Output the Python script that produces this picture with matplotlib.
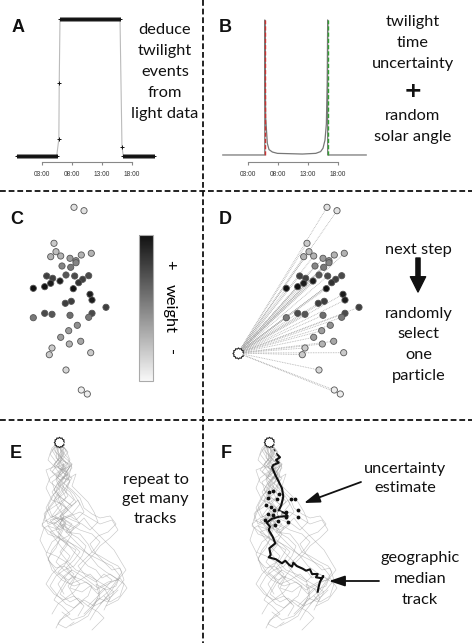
import numpy as np
import matplotlib.pyplot as plt
from matplotlib.colors import LinearSegmentedColormap
from matplotlib.path import Path

# ---- data --------------------------------------------------------------
# A: light recording (hours, light level)
log_step = 10 / 60.0
night1_start, night1_end = -1.17, 5.5
day_start, day_end = 6.05, 16.15
night2_start, night2_end = 16.6, 21.9
light_lo, light_hi = 0, 64
dawn_obs_t, dawn_obs_v = [5.86, 5.92], [8, 34]
dusk_obs_t, dusk_obs_v = [16.38], [4.3]

hour_ticks = [3, 8, 13, 18]
hour_labels = ["03:00", "08:00", "13:00", "18:00"]

# B: twilight time uncertainty curve
twl_t = [-1.2, 5.8, 5.8, 5.94, 6.22, 6.5, 7.06, 7.9, 12.06, 14.3, 15.1, 15.5, 15.83, 16.06, 16.2, 16.28, 16.28, 22.7]
twl_d = [0, 0, 1.0, 0.28, 0.086, 0.04, 0.022, 0.012, 0.007, 0.012, 0.025, 0.05, 0.11, 0.23, 0.53, 1.0, 0, 0]
dawn_t, dusk_t = 5.8, 16.28

# C/D: particles
part_x = [74, 84, 54, 56, 50.7, 60.7, 81.3, 91.3, 70, 76, 70.7, 62, 76, 46.7, 52.7, 50.7, 60, 44.7, 33.3, 66, 74.7, 82.7, 78.7, 88.7,
          73.3, 90, 92, 65.3, 71.3, 106, 33.3, 44.7, 52, 70, 92, 88.7, 77.3, 68.7, 60.7, 69.3, 80.7, 52, 49.3, 90.7, 66, 81.3, 87.3]
part_y = [17.3, 20.7, 53.3, 61.7, 66.7, 66, 65, 63.3, 68.3, 70.7, 77.3, 76, 72.7, 86, 88.3, 93.3, 91, 96.7, 98.3, 85, 86, 89.3, 92.7, 85.7,
          98.7, 104.3, 110, 113.3, 111.3, 117.3, 127.7, 123.3, 124.3, 125.3, 123.3, 127.3, 135.3, 140.7, 147.3, 154, 151.3, 158, 164.7, 162.7, 180, 200, 204]
part_w = [0.1, 0.1, 0.2, 0.25, 0.3, 0.3, 0.3, 0.3, 0.4, 0.45, 0.55, 0.5, 0.5, 0.8, 0.8, 0.95, 0.95, 1.0, 1.0, 0.7, 0.75, 0.8, 0.85, 0.75,
          1.0, 0.95, 0.95, 0.8, 0.8, 0.8, 0.55, 0.75, 0.7, 0.6, 0.75, 0.55, 0.45, 0.4, 0.4, 0.3, 0.35, 0.2, 0.2, 0.2, 0.15, 0.05, 0.05]
prev_x, prev_y = -15, 163

# E/F: simulated tracks
start_x, start_y = 59, 22
tracks_x = [
    [59, 54, 60, 66, 62, 57, 65, 70, 64, 58, 62, 55, 66, 60, 50, 56, 62, 70, 64, 58, 68, 76, 70, 82, 90, 98, 104, 110, 104],
    [59, 64, 58, 68, 62, 72, 66, 74, 80, 72, 62, 54, 60, 48, 56, 66, 74, 80, 88, 96, 102, 110, 118, 112, 104, 96, 90],
    [59, 52, 48, 56, 64, 58, 70, 66, 56, 48, 44, 54, 62, 72, 66, 80, 88, 92, 100, 110, 118, 122, 114, 108, 96, 88, 78, 70],
    [59, 66, 70, 62, 56, 60, 52, 46, 50, 58, 64, 60, 52, 46, 50, 56, 66, 60, 54, 62, 70, 60, 56],
    [59, 61, 54, 60, 66, 76, 72, 80, 88, 94, 98, 90, 82, 72, 64, 60, 66, 74, 82, 90, 98, 106, 116, 124, 120, 110, 104],
    [59, 56, 64, 58, 50, 46, 52, 62, 68, 74, 80, 70, 62, 54, 44, 40, 46, 56, 66, 72, 64, 70, 80, 90, 96, 100, 94, 84, 72, 62],
    [59, 68, 62, 56, 46, 50, 60, 54, 58, 52, 62, 68, 78, 86, 82, 74, 64, 56, 50, 58, 66, 74, 84, 94, 102, 112, 118],
    [59, 61, 68, 72, 64, 60, 66, 58, 64, 60, 70, 78, 84, 90, 98, 106, 114, 120, 126, 118, 108, 98, 90, 82, 72, 64, 58, 64],
    [59, 50, 56, 62, 68, 58, 54, 62, 72, 66, 58, 50, 56, 64, 72, 66, 60, 68, 76, 86, 96, 106, 114, 108, 98, 92, 84],
    [59, 63, 72, 66, 62, 56, 62, 68, 60, 66, 74, 68, 60, 52, 48, 56, 64, 74, 66, 60, 70, 78, 88, 98, 104, 98, 92],
    [59, 58, 66, 60, 52, 56, 64, 72, 78, 84, 76, 70, 62, 56, 64, 76, 88, 100, 112, 120, 116, 106, 96, 100, 92],
    [59, 64, 60, 54, 62, 70, 64, 58, 66, 74, 66, 58, 50, 42, 48, 58, 68, 62, 56, 64, 72, 80, 74, 66, 58, 52],
    [59, 55, 62, 58, 66, 72, 68, 60, 54, 48, 52, 60, 70, 80, 90, 100, 112, 118, 110, 100, 94, 86, 80, 74, 68, 74, 82],
    [59, 62, 56, 50, 58, 64, 70, 62, 68, 58, 46, 42, 50, 60, 56, 48, 52, 62, 74, 86, 96, 108, 120, 127, 118, 106],
    [59, 66, 60, 70, 64, 56, 62, 70, 76, 68, 60, 66, 58, 64, 72, 80, 74, 66, 72, 82, 92, 88, 80, 72, 64, 58, 66, 74],
    [59, 52, 58, 64, 56, 62, 72, 80, 84, 92, 100, 110, 116, 108, 98, 90, 96, 104, 112, 120, 124, 116, 108, 100],
    [59, 64, 58, 52, 60, 68, 62, 56, 50, 44, 48, 56, 64, 58, 66, 76, 70, 60, 52, 46, 54, 64, 74, 84, 78],
    [59, 57, 63, 70, 64, 58, 52, 58, 66, 60, 70, 80, 92, 100, 94, 86, 78, 86, 96, 104, 112, 104, 96, 88],
]
tracks_y = [
    [22, 30, 36, 42, 50, 46, 54, 62, 70, 78, 88, 96, 102, 108, 112, 120, 128, 136, 146, 152, 160, 156, 168, 172, 166, 174, 168, 178, 190],
    [22, 28, 36, 44, 52, 58, 66, 74, 84, 94, 98, 104, 110, 106, 116, 122, 132, 138, 146, 150, 158, 154, 160, 170, 180, 190, 200],
    [22, 28, 40, 48, 44, 56, 60, 72, 80, 90, 100, 104, 98, 104, 112, 114, 124, 132, 136, 142, 146, 152, 164, 172, 182, 196, 202, 206],
    [22, 30, 40, 50, 60, 68, 76, 88, 96, 102, 108, 116, 122, 134, 142, 152, 160, 170, 180, 186, 194, 200, 208],
    [22, 34, 46, 54, 60, 54, 66, 74, 82, 92, 102, 110, 104, 100, 96, 104, 112, 120, 128, 136, 146, 152, 158, 164, 176, 182, 176],
    [22, 38, 44, 52, 58, 68, 80, 84, 90, 96, 104, 112, 108, 102, 108, 120, 132, 136, 142, 150, 158, 164, 160, 154, 160, 172, 186, 196, 200, 192],
    [22, 32, 40, 46, 50, 62, 70, 80, 88, 96, 100, 112, 118, 126, 136, 146, 150, 156, 166, 176, 184, 188, 180, 186, 182, 176, 170],
    [22, 30, 38, 48, 58, 66, 78, 88, 96, 104, 110, 104, 98, 106, 114, 122, 130, 140, 150, 160, 162, 168, 162, 156, 150, 156, 164, 174],
    [22, 34, 42, 48, 54, 62, 70, 78, 86, 92, 98, 100, 108, 104, 114, 124, 132, 142, 150, 154, 160, 166, 172, 182, 178, 186, 194],
    [22, 36, 44, 52, 60, 70, 82, 90, 98, 104, 108, 116, 120, 130, 140, 148, 146, 154, 164, 174, 182, 178, 186, 192, 198, 204, 210],
    [22, 42, 48, 56, 62, 74, 80, 86, 80, 92, 100, 96, 100, 110, 120, 126, 134, 140, 146, 156, 166, 170, 164, 178, 186],
    [22, 30, 38, 44, 50, 46, 58, 64, 72, 80, 88, 94, 98, 104, 114, 118, 124, 132, 142, 150, 156, 164, 172, 178, 184, 194],
    [22, 32, 38, 48, 52, 44, 60, 66, 74, 86, 96, 100, 96, 92, 98, 104, 100, 110, 118, 126, 134, 142, 150, 158, 166, 176, 184],
    [22, 36, 42, 50, 56, 48, 56, 64, 76, 84, 92, 106, 112, 118, 128, 138, 150, 160, 166, 162, 170, 164, 158, 168, 180, 186],
    [22, 30, 40, 44, 52, 58, 66, 72, 82, 88, 96, 104, 112, 118, 124, 132, 140, 148, 156, 160, 166, 176, 182, 190, 196, 204, 208, 202],
    [22, 30, 40, 46, 56, 62, 70, 78, 88, 94, 98, 96, 104, 112, 116, 124, 134, 142, 150, 148, 160, 170, 176, 184],
    [22, 34, 44, 52, 60, 54, 70, 78, 86, 94, 104, 98, 106, 116, 124, 130, 140, 146, 154, 164, 174, 180, 176, 186, 196],
    [22, 30, 40, 46, 56, 64, 72, 82, 88, 96, 104, 110, 114, 122, 130, 138, 146, 156, 162, 154, 160, 170, 178, 186],
]

# F: geographic median track and uncertainty cloud at one step
median_x = [67.7, 70, 66, 68.7, 63.3, 62, 65.3, 68.7, 72, 73.3, 71.3, 68.7, 75.3, 77.7, 69.3, 62, 56.7, 60, 58.7, 62.7, 65.3, 59.3, 60.7,
            58.7, 66, 72, 75.3, 79.3, 82, 83.3, 86.7, 92.7, 96, 100, 102, 107.7, 106, 112, 113.3, 110, 108.7, 107.7]
median_y = [35, 37.3, 40, 42.7, 45, 47.3, 55, 61.7, 68.3, 76.7, 85, 90.7, 93.3, 96, 96.7, 98.7, 102.7, 106.7, 110, 116.7, 123.3, 128.3, 135,
            137.3, 139.3, 143.3, 140.7, 145, 146.7, 142.7, 146, 148.7, 150.7, 149.3, 154, 154, 157.3, 158.3, 156, 161.7, 166.7, 171.7]
unc_x = [59.3, 63.3, 68.7, 58.3, 66.7, 81, 85.3, 56, 60.7, 64.3, 76, 87.7, 57.7, 63.3, 76, 87.7, 55.3, 67.7, 77.7, 65.3]
unc_y = [71.7, 70.7, 74, 78.3, 79.3, 79.3, 79.3, 85, 86.7, 90, 91.7, 90, 94, 95, 96.7, 97.3, 100, 100.7, 101.7, 105]
unc_mid_x, unc_mid_y = 69.3, 92.7

# ---- figure --------------------------------------------------------------
W, H = 472, 643
fig = plt.figure(figsize=(W / 100, H / 100), dpi=100)
TXT = "Lato"


def px_axes(x0, y0, x1, y1):
    return fig.add_axes([x0 / W, 1 - y1 / H, (x1 - x0) / W, (y1 - y0) / H])


# sun-like marker for the starting location
ang = np.linspace(0, 2 * np.pi, 25)[:-1]
rad = np.where(np.arange(24) % 2 == 0, 1.0, 0.82)
sun = Path(np.column_stack([rad * np.cos(ang), rad * np.sin(ang)]), closed=False)


def time_axis(ax):
    for s in ("top", "right", "left"):
        ax.spines[s].set_visible(False)
    ax.spines["bottom"].set_bounds(3, 18)
    ax.spines["bottom"].set_color("#888888")
    ax.spines["bottom"].set_linewidth(0.8)
    ax.set_xticks(hour_ticks)
    ax.set_xticklabels(hour_labels, fontfamily="Liberation Sans")
    ax.tick_params(axis="x", length=2.5, width=0.8, color="#888888", labelsize=4.8,
                   labelcolor="#333333", pad=4)
    ax.set_yticks([])
    ax.patch.set_alpha(0)
    ax.set_xlim(-2, 24)


# A
axA = px_axes(11.7, 12, 167.7, 162)
seg1 = np.arange(night1_start, night1_end, log_step)
seg2 = np.arange(day_start, day_end, log_step)
seg3 = np.arange(night2_start, night2_end, log_step)
light_t = np.concatenate([seg1, dawn_obs_t, seg2, dusk_obs_t, seg3])
light_v = np.concatenate([np.full(len(seg1), light_lo), dawn_obs_v, np.full(len(seg2), light_hi),
                          dusk_obs_v, np.full(len(seg3), light_lo)])
axA.plot(light_t, light_v, color="#bbbbbb", lw=0.8)
axA.plot(light_t, light_v, "+", color="#111111", ms=3.2, mew=0.7)
axA.set_ylim(-2.8, 67.3)
time_axis(axA)

# B
axB = px_axes(218, 12, 374, 162)
axB.plot(twl_t, twl_d, color="#777777", lw=0.9)
axB.plot([dawn_t, dawn_t], [0, 1], color="#cc3333", lw=1.0, dashes=(3, 1.5))
axB.plot([dusk_t, dusk_t], [0, 1], color="#33a033", lw=1.0, dashes=(3, 1.5))
axB.set_ylim(-0.052, 1.059)
time_axis(axB)

# C
cmap = LinearSegmentedColormap.from_list("wt", ["#f8f8f8", "#111111"])
axC = px_axes(0, 190, 236, 420)
axC.set_xlim(0, 236)
axC.set_ylim(230, 0)
axC.axis("off")
sc = axC.scatter(part_x, part_y, c=part_w, cmap=cmap, vmin=0, vmax=1, s=20,
                 edgecolors="#555555", linewidths=0.6, zorder=3)
cax = px_axes(139, 235, 153, 381)
cb = fig.colorbar(sc, cax=cax)
cb.set_ticks([])
cb.outline.set_edgecolor("#aaaaaa")
cb.outline.set_linewidth(0.8)

# D
axD = px_axes(236, 190, 472, 420)
axD.set_xlim(-17, 219)
axD.set_ylim(230, 0)
axD.axis("off")
for x, y in zip(part_x, part_y):
    axD.plot([prev_x, x], [prev_y, y], color="#b0b0b0", lw=0.6, ls=(0, (1, 1)), zorder=1)
axD.scatter(part_x, part_y, c=part_w, cmap=cmap, vmin=0, vmax=1, s=20,
            edgecolors="#555555", linewidths=0.6, zorder=3)
axD.plot(prev_x, prev_y, marker=sun, ms=8, mfc="white", mec="#222222", mew=0.8,
         clip_on=False, zorder=4)

# E
axE = px_axes(0, 420, 236, 643)
axE.set_xlim(0, 236)
axE.set_ylim(223, 0)
axE.axis("off")
for tx, ty in zip(tracks_x, tracks_y):
    axE.plot(tx, ty, color="#9a9a9a", lw=0.45, alpha=0.55)
axE.plot(start_x, start_y, marker=sun, ms=7.5, mfc="white", mec="#222222", mew=0.8, zorder=4)

# F
axF = px_axes(236, 420, 472, 643)
axF.set_xlim(26, 262)
axF.set_ylim(223, 0)
axF.axis("off")
for tx, ty in zip(tracks_x, tracks_y):
    axF.plot(tx, ty, color="#9a9a9a", lw=0.45, alpha=0.55)
axF.plot([start_x, median_x[0]], [start_y, median_y[0]], color="#222222", lw=0.9, dashes=(2, 1.5))
axF.plot(median_x, median_y, color="#111111", lw=1.5, zorder=3)
axF.scatter(unc_x, unc_y, s=3, color="#111111", zorder=4)
axF.scatter([unc_mid_x], [unc_mid_y], s=12, color="white", edgecolors="#777777", linewidths=0.4, zorder=5)
axF.plot(start_x, start_y, marker=sun, ms=7.5, mfc="white", mec="#222222", mew=0.8, zorder=6)

# ---- overlay: dividers, labels, words, arrows -------------------------
ov = fig.add_axes([0, 0, 1, 1])
ov.set_xlim(0, W)
ov.set_ylim(H, 0)
ov.axis("off")

dash = dict(color="#111111", lw=1.3, dashes=(3.2, 1.6))
ov.plot([203, 203], [0, H], **dash)
ov.plot([0, W], [191, 191], **dash)
ov.plot([0, W], [420, 420], **dash)

for lab, x, y in [("A", 18, 28), ("B", 225, 28), ("C", 17, 220), ("D", 225, 220), ("E", 16, 454), ("F", 226, 454)]:
    ov.text(x, y, lab, ha="center", va="center", fontsize=13, fontweight="bold",
            fontfamily="Liberation Sans", color="#111111")


def words(x, ys, lines, size=11.8):
    for y, s in zip(ys, lines):
        ov.text(x, y, s, ha="center", va="baseline", fontsize=size, fontfamily=TXT, color="#111111")


words(165, [34, 55, 76, 97, 118], ["deduce", "twilight", "events", "from", "light data"])
words(413, [26, 46.7, 68, 120, 140.7], ["twilight", "time", "uncertainty", "random", "solar angle"])
ov.text(413, 91, "+", ha="center", va="center", fontsize=16, fontweight="bold",
        fontfamily="DejaVu Sans", color="#111111")

ov.text(170, 265, "+", ha="center", va="center", fontsize=11.8, fontfamily=TXT, rotation=270)
ov.text(170, 308, "weight", ha="center", va="center", fontsize=11.8, fontfamily=TXT, rotation=270)
ov.text(170, 352, "-", ha="center", va="center", fontsize=11.8, fontfamily=TXT, rotation=270)

words(418.7, [254, 318, 338.3, 359, 380], ["next step", "randomly", "select", "one", "particle"])
ov.annotate("", xy=(418, 292), xytext=(418, 258),
            arrowprops=dict(arrowstyle="simple,head_length=1.1,head_width=1.1,tail_width=0.3",
                            color="#111111", shrinkA=0, shrinkB=0, mutation_scale=10))

words(155.7, [484, 503.5, 523.3], ["repeat to", "get many", "tracks"])
words(405, [472.7, 491.7], ["uncertainty", "estimate"])
words(420, [561.7, 583, 604], ["geographic", "median", "track"])

arr = dict(arrowstyle="-|>,head_length=0.95,head_width=0.32", color="#111111", lw=1.3,
           shrinkA=0, shrinkB=0, mutation_scale=10)
ov.annotate("", xy=(304, 503), xytext=(361, 482), arrowprops=arr)
ov.annotate("", xy=(329, 581), xytext=(379, 581), arrowprops=arr)

fig.savefig("out.png", dpi=100, facecolor="white")
